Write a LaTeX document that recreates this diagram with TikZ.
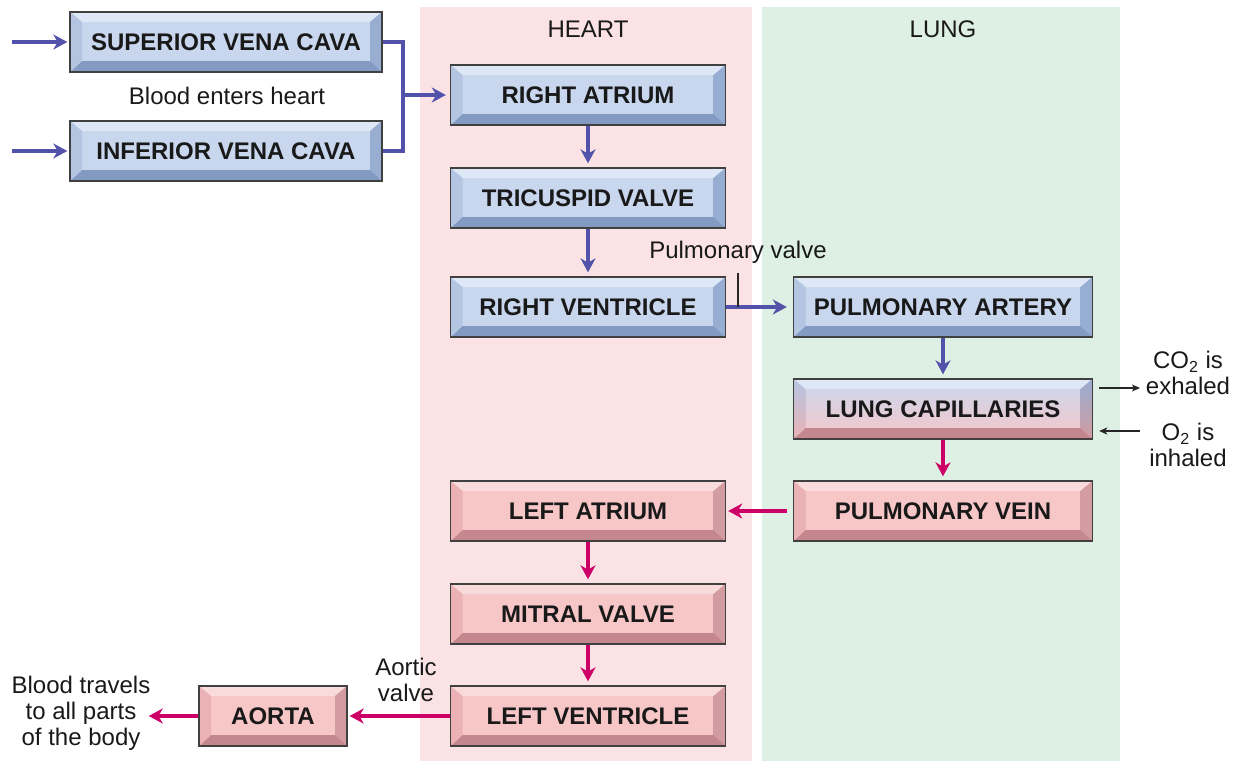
\documentclass[tikz,border=0pt]{standalone}
\usepackage{fontspec}
\setmainfont{Liberation Sans}
\usetikzlibrary{arrows.meta}

\definecolor{heartbg}{RGB}{251,226,229}
\definecolor{lungbg}{RGB}{222,239,227}
\definecolor{bluface}{RGB}{200,215,238}
\definecolor{blutop}{RGB}{221,231,245}
\definecolor{bluleft}{RGB}{180,197,226}
\definecolor{bluright}{RGB}{151,173,209}
\definecolor{blubot}{RGB}{131,155,195}
\definecolor{pnkface}{RGB}{247,199,200}
\definecolor{pnktop}{RGB}{250,219,219}
\definecolor{pnkleft}{RGB}{234,178,181}
\definecolor{pnkright}{RGB}{210,156,161}
\definecolor{pnkbot}{RGB}{196,135,141}
\definecolor{veinblue}{RGB}{82,82,170}
\definecolor{arterypink}{RGB}{204,0,102}

\tikzset{
  organ/.style 2 args={
    draw=black!75, line width=0.7pt, minimum height=30pt, inner sep=0pt,
    font=\fontsize{12}{13}\selectfont\bfseries, text=black!90,
    top color=#1face, bottom color=#2face,
    path picture={
      \path (path picture bounding box.north west) coordinate (bnw)
            (path picture bounding box.north east) coordinate (bne)
            (path picture bounding box.south east) coordinate (bse)
            (path picture bounding box.south west) coordinate (bsw);
      \fill[#1top] (bnw) -- (bne) -- ([shift={(-6pt,-5pt)}]bne) -- ([shift={(6pt,-5pt)}]bnw) -- cycle;
      \shade[top color=#1right, bottom color=#2right] (bne) -- (bse) -- ([shift={(-6pt,5.5pt)}]bse) -- ([shift={(-6pt,-5pt)}]bne) -- cycle;
      \fill[#2bot] (bse) -- (bsw) -- ([shift={(6pt,5.5pt)}]bsw) -- ([shift={(-6pt,5.5pt)}]bse) -- cycle;
      \shade[top color=#1left, bottom color=#2left] (bsw) -- (bnw) -- ([shift={(6pt,-5pt)}]bnw) -- ([shift={(6pt,5.5pt)}]bsw) -- cycle;
    }},
  blubox/.style={organ={blu}{blu}},
  pnkbox/.style={organ={pnk}{pnk}},
  mixbox/.style={organ={blu}{pnk}},
  heartw/.style={minimum width=137.5pt},
  lungw/.style={minimum width=149.5pt},
  label/.style={text=black!90, inner sep=1pt, align=center},
  veinflow/.style={draw=veinblue, line width=1.6pt, -{Stealth[length=7pt,width=7.5pt,inset=2.2pt]}},
  veinline/.style={draw=veinblue, line width=1.6pt},
  arteryflow/.style={draw=arterypink, line width=1.6pt, -{Stealth[length=7pt,width=7.5pt,inset=2.2pt]}},
  gasflow/.style={draw=black!85, line width=0.6pt, -{Stealth[length=4pt,width=3.5pt,inset=1pt]}}
}

\begin{document}
\begin{tikzpicture}[x=0.5pt,y=-0.5pt,font=\fontsize{12}{13}\selectfont]
    \useasboundingbox (0,0) rectangle (1243,761);

    % the two columns
    \fill[heartbg] (420,7) rectangle (752,761);
    \fill[lungbg] (762,7) rectangle (1120,761);
    \node[label] (heart) at (588,29) {HEART};
    \node[label] (lung) at (943,29) {LUNG};

    % boxes
    \node[blubox, minimum width=156pt] (svc) at (226,42) {SUPERIOR VENA CAVA};
    \node[blubox, minimum width=156pt] (ivc) at (226,151) {INFERIOR VENA CAVA};
    \node[label] (enters) at (227,96) {Blood enters heart};

    \node[blubox, heartw] (ra) at (588,95) {RIGHT ATRIUM};
    \node[blubox, heartw] (tv) at (588,198) {TRICUSPID VALVE};
    \node[blubox, heartw] (rv) at (588,307) {RIGHT VENTRICLE};
    \node[blubox, lungw] (pa) at (943,307) {PULMONARY ARTERY};
    \node[mixbox, lungw] (lc) at (943,409) {LUNG CAPILLARIES};
    \node[pnkbox, lungw] (pv) at (943,511) {PULMONARY VEIN};
    \node[pnkbox, heartw] (la) at (588,511) {LEFT ATRIUM};
    \node[pnkbox, heartw] (mv) at (588,614) {MITRAL VALVE};
    \node[pnkbox, heartw] (lv) at (588,716) {LEFT VENTRICLE};
    \node[pnkbox, minimum width=74pt] (aorta) at (273,716) {AORTA};

    % side labels
    \node[label, anchor=base] (pvalve) at (738,258) {Pulmonary valve};
    \node[label] (avalve) at (406,680) {Aortic\\valve};
    \node[label] (co2) at (1188,373) {CO\textsubscript{2} is\\exhaled};
    \node[label] (o2) at (1188,445) {O\textsubscript{2} is\\inhaled};
    \node[label] (body) at (81,713) {Blood travels\\to all parts\\of the body};

    \coordinate (svcin) at (12,42);
    \coordinate (ivcin) at (12,151);
    \coordinate (join) at (403,95);
    \coordinate (pvtick) at (738,307);
    \coordinate (co2end) at (1140,388);
    \coordinate (o2start) at (1140,431);

    % blue side
    \draw[veinflow, shorten >=1pt] (svcin) -- (svc.west);
    \draw[veinflow, shorten >=1pt] (ivcin) -- (ivc.west);
    \draw[veinline] (svc.east) -| (join) |- (ivc.east);
    \draw[veinflow, shorten >=2pt] (join) -- (ra.west);
    \draw[veinflow, shorten >=2pt] (ra) -- (tv);
    \draw[veinflow, shorten >=2pt] (tv) -- (rv);
    \draw[veinflow, shorten >=3pt] (rv) -- (pa);
    \draw[black!85, line width=0.6pt] (pvtick) -- ([yshift=-4pt]pvalve.south);
    \draw[veinflow, shorten >=2pt] (pa) -- (lc);

    % gas exchange
    \draw[gasflow, shorten <=3pt] (lc.east |- co2end) -- (co2end);
    \draw[gasflow, shorten >=3pt] (o2start) -- (lc.east |- o2start);

    % pink side
    \draw[arteryflow, shorten >=2pt] (lc) -- (pv);
    \draw[arteryflow, shorten <=3pt, shorten >=1pt] (pv) -- (la);
    \draw[arteryflow, shorten >=2pt] (la) -- (mv);
    \draw[arteryflow, shorten >=2pt] (mv) -- (lv);
    \draw[arteryflow, shorten >=1pt] (lv) -- (aorta);
    \draw[arteryflow, shorten >=-2pt] (aorta) -- (body.east |- aorta);
\end{tikzpicture}
\end{document}
